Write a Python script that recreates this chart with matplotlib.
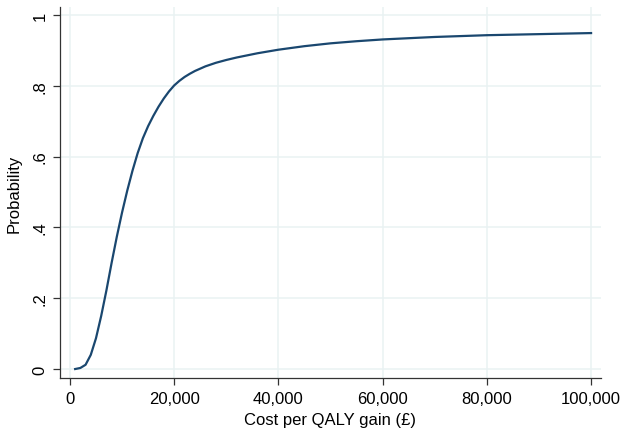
import numpy as np
import matplotlib.pyplot as plt

plt.rcParams["font.family"] = ["Liberation Sans", "DejaVu Sans"]

# Cost-effectiveness acceptability curve
wtp = [1000, 2000, 3000, 4000, 5000, 6000, 7000, 8000, 9000, 10000,
       11000, 12000, 13000, 14000, 15000, 16000, 17000, 18000, 19000, 20000,
       21000, 22000, 23000, 24000, 26000, 28000, 30000, 32000, 34000, 36000,
       38000, 40000, 45000, 50000, 55000, 60000, 70000, 80000, 90000, 100000]
prob = [0.0, 0.003, 0.012, 0.04, 0.087, 0.15, 0.222, 0.30, 0.374, 0.442,
        0.504, 0.560, 0.610, 0.652, 0.686, 0.715, 0.741, 0.764, 0.784, 0.801,
        0.814, 0.825, 0.834, 0.842, 0.855, 0.865, 0.873, 0.880, 0.886, 0.892,
        0.897, 0.902, 0.912, 0.920, 0.926, 0.931, 0.938, 0.943, 0.946, 0.949]

xticks = [0, 20000, 40000, 60000, 80000, 100000]
xticklabels = ["0", "20,000", "40,000", "60,000", "80,000", "100,000"]
yticks = [0, 0.2, 0.4, 0.6, 0.8, 1.0]
yticklabels = ["0", ".2", ".4", ".6", ".8", "1"]

fig = plt.figure(figsize=(6.22, 4.31), dpi=100)
ax = fig.add_axes([0.0965, 0.1206, 0.8697, 0.8608])

ax.plot(wtp, prob, color="#1a476f", lw=1.6)

ax.set_xlim(-1900, 101900)
ax.set_ylim(-0.0254, 1.0226)
ax.set_xticks(xticks)
ax.set_xticklabels(xticklabels)
ax.set_yticks(yticks)
ax.set_yticklabels(yticklabels, rotation=90, va="center")

ax.grid(True, color="#eaf2f3", lw=1.1)
ax.set_axisbelow(True)
for s in ["top", "right"]:
    ax.spines[s].set_visible(False)
for s in ["left", "bottom"]:
    ax.spines[s].set_color("#333333")
    ax.spines[s].set_linewidth(0.9)

ax.tick_params(axis="both", labelsize=12, length=5, width=0.9,
               color="#333333", pad=4)
ax.set_xlabel("Cost per QALY gain (£)", fontsize=12, labelpad=5)
ax.set_ylabel("Probability", fontsize=12, labelpad=8)

plt.savefig("out.png", dpi=100)
